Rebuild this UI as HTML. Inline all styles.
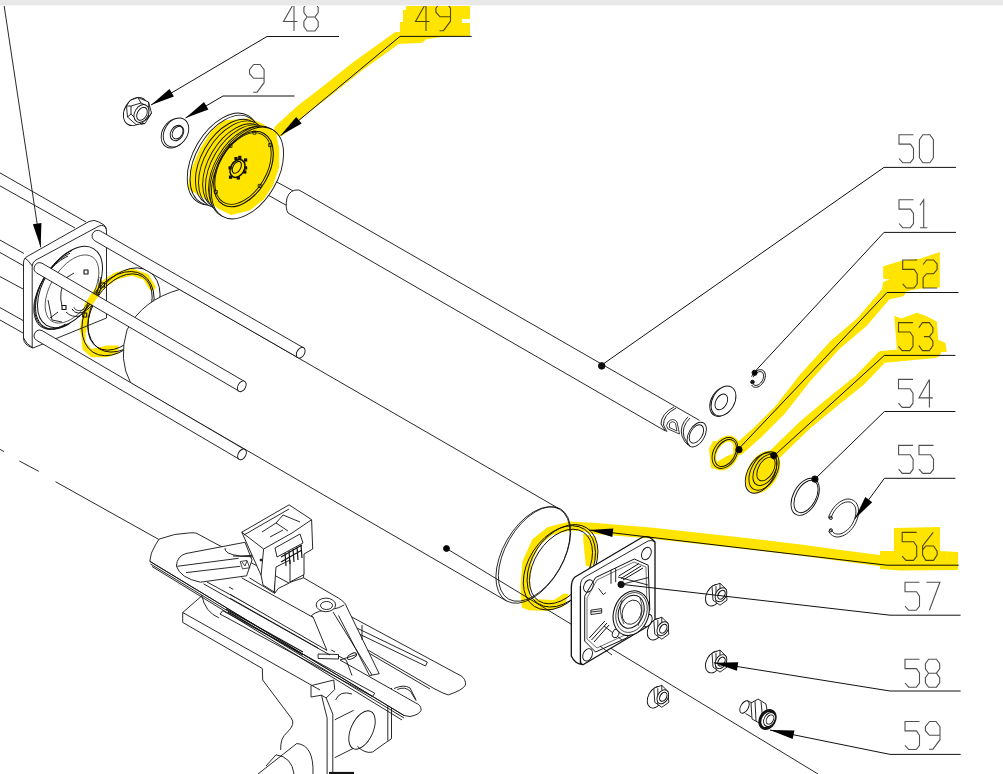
<!DOCTYPE html>
<html><head><meta charset="utf-8"><style>
html,body{margin:0;padding:0;background:#fff;width:1003px;height:774px;overflow:hidden;font-family:"Liberation Sans",sans-serif}
</style></head><body>
<svg width="1003" height="774" viewBox="0 0 1003 774" style="position:absolute;left:0;top:0">
<g fill="none" stroke="#111" stroke-width="0.9" stroke-linejoin="round"><path d="M0,449.4 L4,451.6 M19.4,461 L38.7,471.3 M55.5,481.7 L158.7,539.4" fill="none"/><path d="M182.7,612.5 L182.7,622.4 L262.3,668.5 L262.3,681.2 L291.1,717.9 Q296,724 287.4,732.1 Q280,738 280.7,750 L258,774 L400,774 L400,640 L182.7,612.5 Z" fill="#fff" stroke="none"/><path d="M182.7,612.5 L182.7,622.4 L262.3,668.5 L262.7,680 L291.1,717.9 Q296,724 287.4,732.1 Q280,738 280.7,750" fill="none"/><path d="M182.7,612.5 L201.9,595.8 M182.7,612.5 L320,690" fill="none"/><path d="M201.7,595.3 Q205,612 218.9,617.9" fill="none"/><path d="M296.8,743.5 L258,774 M276,754.8 L266,766" fill="none"/><path d="M296.8,743.5 Q314,745 313,774 M276,754.8 Q292,757 294,774" fill="none"/><path d="M311,685.7 L311,697 L321.5,695.2 L326.2,698 L332.8,714.1 L332.8,774 M327.1,717.9 L327.1,774 M321.5,695.2 Q324,706 327.1,717.9" fill="none"/><path d="M311,685.7 L333.8,680 L334.7,689.5 L326.2,698" fill="none"/><path d="M329,773 L354,773" fill="none" stroke-width="2.2"/><path d="M334.7,719.8 L353.7,710.3 L372.6,729.3 L363.1,750 L334.7,757.7 Z" fill="#fff" stroke="none"/><path d="M334.7,719.8 L353.7,710.3 M334.7,757.7 L368.8,740.6" fill="none"/><ellipse cx="362.0" cy="730.0" rx="11.0" ry="20.5" transform="rotate(25 362.0 730.0)" fill="#fff"/><path d="M335.6,700 Q340,690 352,694 M357.4,746.3 Q365,754 372.6,752 L385.9,742.5" fill="none"/><path d="M387.8,690 L387.8,740.6 M391.5,688 L391.5,738.7 M385.9,742.5 L391.5,738.7" fill="none"/><path d="M397.2,689.5 Q405,686 410.5,691.4 L416.2,700.8" fill="none"/><path d="M159.1,539.1 Q175,533 189.6,532.9 Q195,532.5 196.8,533.4 L461,675.9 Q466,679 465.5,685 Q463,690 448.3,694.9 L442.9,693 L433.9,688.5 L368.7,650.5 L340,660 L415.8,703 Q421.2,705 421.2,710.2 Q419,715 410,716.5 L404,715.5 L149.8,561.3 L151.4,553.1 L155.5,544.8 Z" fill="#fff"/><path d="M149.8,561.3 L404,715.5 M150.5,564 L404,718 M152,566.5 L402,720" fill="none"/><path d="M368.7,653 L430,689" fill="none"/><path d="M355.5,627.4 L427.3,662.1 L425.5,666 L353,631 Z" fill="none"/><path d="M222.7,610.7 L374.7,693.2 L372.4,696.5 L220,614 Z" fill="none"/><path d="M394,688.5 Q404,684 410,688 L415.8,699.4" fill="none"/><path d="M226,609 L303,652 M228,612 L303,655" fill="none" stroke-width="1.1"/><path d="M186,553.5 L245,542.3 L252,560 L246.6,575.8 L200.3,582.2 Q180,578 176.4,566 Q177,556 186,553.5 Z" fill="#fff"/><path d="M177.2,566.3 L238.6,558.3 M186,572.6 L240.2,566.3" fill="none"/><path d="M225,548 Q224,554 240,556 L258,555 M233,556 L258,557 L262,560" fill="none"/><path d="M240.2,561.5 L247,560.5 L249.7,567.8 L242.5,568.8 Z M242,562 L245,566 L247,561" fill="none" stroke-width="0.8"/><path d="M203.5,583.8 L330,655 M207,582 L335,652 M229,587 L340,648 M257,595 L350,644" fill="none"/><path d="M241.6,577.8 L249.4,577.8 L274.6,593.3 L278.4,588.4 L292,581.6 L303.6,577.8 L338.5,598.1 Q346,603 346.2,605.9 L379.2,673.7 L369.5,675.6 L352,646 L326.9,650.4 L230,594.2 Z" fill="#fff" stroke="none"/><path d="M249.4,577.8 L274.6,593.3 L278.4,588.4 L292,581.6 L303.6,577.8 L338.5,598.1 Q346,603 346.2,605.9 L379.2,673.7 L369.5,675.6 L338.5,615.5" fill="none"/><path d="M241.6,577.8 L313.3,617.5 L326.9,650.4 M230,594.2 L326.9,650.4 M230,598.1 L318,648" fill="none"/><path d="M311.4,615.5 Q318,610 330.7,609.7 Q340,608 344.3,604.9 M313.3,617.5 L311.4,615.5" fill="none"/><path d="M303.6,577.8 L303.6,569 L299.7,565.2 M274.6,593.3 L274.6,553.6 M292,581.6 L292,561.3" fill="none"/><ellipse cx="325.9" cy="604.9" rx="6.8" ry="9.7" transform="rotate(90 325.9 604.9)" fill="#fff"/><ellipse cx="326.5" cy="605.5" rx="4.0" ry="6.0" transform="rotate(90 326.5 605.5)" fill="none"/><path d="M333,612 L372,675" fill="none"/><path d="M318.1,654 L338.5,654.5 L338.5,659 L318.1,658.5 Z M338.5,656 L346.2,660.1" fill="none"/><ellipse cx="352.0" cy="656.2" rx="2.3" ry="5.0" transform="rotate(60 352.0 656.2)" fill="none"/><path d="M346.2,660.1 L352,675.6 M362,625 L362,640" fill="none"/><path d="M241.8,532.2 L289.1,504.8 L311.6,519.7 L312.7,549 L304,554 L304,574.6 L290,582 L290,560 L276,567 L274.2,592 L263,585 L261.1,575.4 Z" fill="#fff"/><path d="M241.8,532.2 L263.6,549 L261.1,575.4 M263.6,549 L292,533 L311.6,519.7 M244,535 L289,509" fill="none"/><path d="M262,532 L276,523 L288,531 M276,523 L283,515 L300,522 M270,537 L283,530" fill="none"/><path d="M275,548 L300,534 L303,543 L277,557 Z" fill="none"/><path d="M281,557 L302,545 M281,562 L302,550 M285,553 L286,566 M289,551 L290,564 M293,549 L294,562 M297,547 L298,560 M301,545 L302,558" fill="none" stroke-width="1.2"/><circle cx="261" cy="560" r="1" fill="#000"/><path d="M4.0,5.0 L40.7,247.3" fill="none"/><path d="M40.7,247.3 L41.4,222.9 L32.9,224.2 Z" fill="#000" stroke="none"/><ellipse cx="135.5" cy="111.5" rx="11.0" ry="15.0" transform="rotate(30 135.5 111.5)" fill="#fff"/><path d="M130,100.5 L138,97.5 L148.5,102 L151.5,113 L145,123.5 L136,124.5 L127.5,117 L126.5,106 Z" fill="#fff"/><path d="M138,97.5 L141,103 M148.5,102 L149,107 M151.5,113 L148,118 M145,123.5 L141,124 M127.5,117 L131,114 M126.5,106 L131,106" fill="none"/><path d="M131,106 L141,103 L149,107 L148,118 L141,124 L131,114 Z" fill="#fff"/><ellipse cx="141.5" cy="113.5" rx="6.8" ry="9.5" transform="rotate(30 141.5 113.5)" fill="#fff"/><ellipse cx="142.0" cy="113.8" rx="4.6" ry="7.0" transform="rotate(30 142.0 113.8)" fill="none"/><ellipse cx="174.2" cy="133.2" rx="11.8" ry="15.8" transform="rotate(32 174.2 133.2)" fill="#fff"/><ellipse cx="176.0" cy="132.5" rx="11.5" ry="15.5" transform="rotate(32 176.0 132.5)" fill="#fff"/><ellipse cx="177.0" cy="133.0" rx="6.2" ry="8.2" transform="rotate(32 177.0 133.0)" fill="none"/><ellipse cx="177.6" cy="132.6" rx="4.8" ry="6.8" transform="rotate(32 177.6 132.6)" fill="none"/><path d="M0,172.9 L86,222 M0,185.9 L75,228" fill="none"/><path d="M0,240.1 L24,253.5 M0,252.5 L24,266" fill="none"/><path d="M0,276.6 L23,289" fill="none"/><path d="M0,307.6 L23,320.5 M0,320 L23,333" fill="none"/><path d="M23.5,263 Q23.5,258 28,256 L89,221.5 Q94,219 99,222 L104,225 Q106.5,227 106.5,231 L106.5,318 L33,348 Q23.5,345 23.5,338 Z" fill="#fff"/><path d="M32.2,266 Q32.2,262 36,260 L99,226 Q104,224 106.5,229" fill="none"/><path d="M32.2,266 L32.2,347" fill="none"/><path d="M25,258 Q29,261 32.2,266" fill="none"/><path d="M23.5,338 Q26,344 33,348" fill="none"/><ellipse cx="70.0" cy="287.0" rx="26.0" ry="45.0" transform="rotate(32 70.0 287.0)" fill="none" stroke-width="1.0"/><path d="M69.6,323.6 L66.9,325.2 L64.2,326.5 L61.5,327.5 L58.9,328.3 L56.4,328.8 L53.9,329.1 L51.5,329.0 L49.3,328.7 L47.1,328.1 L45.1,327.2 L43.3,326.1 L41.6,324.7 L40.2,323.1 L38.9,321.2 L37.8,319.1 L36.9,316.8 L36.2,314.3 L35.8,311.6 L35.6,308.7 L35.5,305.7 L35.8,302.6 L36.2,299.4 L36.9,296.2 L37.7,292.8 L38.8,289.5 L40.1,286.1 L41.6,282.8 L43.2,279.5 L45.0,276.2 L47.0,273.1 L49.1,270.0 L51.4,267.1 L53.8,264.3 L56.2,261.7 L58.8,259.3 L61.4,257.0 L64.0,255.0 L66.7,253.2 L69.4,251.7 L72.1,250.4" fill="none" stroke-width="1.0"/><path d="M67.4,323.9 L64.8,325.4 L62.2,326.7 L59.7,327.7 L57.2,328.4 L54.7,328.9 L52.3,329.2 L50.0,329.1 L47.9,328.8 L45.8,328.3 L43.9,327.4 L42.1,326.3 L40.5,325.0 L39.1,323.4 L37.9,321.6 L36.8,319.6 L36.0,317.3 L35.3,314.9 L34.9,312.3 L34.7,309.6 L34.7,306.7 L34.9,303.7 L35.4,300.6 L36.0,297.5 L36.8,294.3 L37.9,291.0 L39.1,287.8 L40.5,284.5 L42.1,281.3 L43.9,278.2 L45.8,275.2 L47.9,272.2 L50.1,269.4 L52.3,266.7 L54.7,264.2 L57.2,261.8 L59.7,259.6 L62.3,257.7 L64.8,256.0 L67.4,254.5 L70.0,253.2" fill="none" stroke-width="1.0"/><path d="M65.3,324.1 L62.8,325.6 L60.3,326.8 L57.8,327.8 L55.4,328.6 L53.0,329.1 L50.8,329.3 L48.6,329.3 L46.5,329.0 L44.5,328.4 L42.7,327.6 L41.0,326.6 L39.4,325.3 L38.1,323.8 L36.9,322.0 L35.9,320.1 L35.1,317.9 L34.5,315.6 L34.1,313.1 L33.9,310.5 L33.9,307.7 L34.1,304.8 L34.5,301.8 L35.1,298.8 L36.0,295.7 L37.0,292.6 L38.2,289.4 L39.5,286.3 L41.1,283.2 L42.8,280.2 L44.6,277.2 L46.6,274.4 L48.7,271.7 L50.9,269.1 L53.2,266.6 L55.6,264.3 L58.0,262.3 L60.5,260.4 L63.0,258.7 L65.5,257.3 L68.0,256.0" fill="none" stroke-width="1.0"/><path d="M89.8,300.1 L87.0,304.2 L84.0,308.1 L80.7,311.6 L77.4,314.8 L73.9,317.4 L70.4,319.7 L66.9,321.3 L63.5,322.5 L60.2,323.0 L57.2,323.0 L54.4,322.4 L51.9,321.2 L49.7,319.5 L47.9,317.2 L46.6,314.5 L45.7,311.3 L45.2,307.8 L45.2,303.9 L45.6,299.8 L46.5,295.5 L47.8,291.1 L49.6,286.6 L51.7,282.2 L54.2,277.9 L57.0,273.8 L60.0,269.9 L63.3,266.4 L66.6,263.2 L70.1,260.6 L73.6,258.3 L77.1,256.7 L80.5,255.5 L83.8,255.0 L86.8,255.0 L89.6,255.6 L92.1,256.8 L94.3,258.5 L96.1,260.8 L97.4,263.5 L98.3,266.7 L98.8,270.2 L98.8,274.1 L98.4,278.2 L97.5,282.5 L96.2,286.9 L94.4,291.4 L92.3,295.8 L89.8,300.1 Z" fill="none" stroke-width="0.7"/><path d="M99.9,277.1 L100.4,278.5 L100.8,280.0 L101.1,281.7 L101.1,283.5 L101.0,285.3 L100.8,287.3 L100.3,289.4 L99.8,291.4 L99.0,293.5 L98.1,295.6 L97.1,297.7 L96.0,299.7 L94.8,301.6 L93.4,303.4 L92.0,305.2 L90.5,306.7 L89.0,308.2 L87.4,309.5 L85.8,310.6 L84.3,311.5 L82.7,312.2 L81.2,312.6 L79.7,312.9 L78.3,313.0 L77.0,312.8 L75.8,312.4 L74.6,311.8 L73.7,311.0 L72.8,310.0 L72.1,308.9" fill="none" stroke-width="1.0"/><path d="M98.1,278.8 L98.6,280.0 L98.9,281.3 L99.0,282.8 L99.0,284.3 L98.9,286.0 L98.6,287.7 L98.2,289.5 L97.7,291.3 L97.0,293.2 L96.2,295.0 L95.3,296.8 L94.3,298.6 L93.2,300.3 L92.0,301.9 L90.8,303.5 L89.5,304.9 L88.2,306.2 L86.8,307.3 L85.5,308.3 L84.1,309.2 L82.8,309.8 L81.5,310.3 L80.2,310.5 L79.0,310.6 L77.9,310.5 L76.9,310.2 L76.0,309.7 L75.1,309.0 L74.4,308.2 L73.9,307.2" fill="none" stroke-width="0.8"/><path d="M62,306 Q58,292 66,278 L74,273 M66,312 Q72,318 80,316" fill="none"/><rect x="84.0" y="270.0" width="4" height="4" fill="#fff" stroke-width="1.1"/><rect x="100.5" y="283.0" width="4" height="4" fill="#fff" stroke-width="1.1"/><rect x="62.0" y="305.5" width="4" height="4" fill="#fff" stroke-width="1.1"/><rect x="82.7" y="313.0" width="4" height="4" fill="#fff" stroke-width="1.1"/><path d="M48,300 L52,320 L62,322 M50,318 L58,312" fill="none"/><ellipse cx="118.0" cy="313.6" rx="31.0" ry="46.0" transform="rotate(33 118.0 313.6)" fill="none"/><ellipse cx="120.0" cy="312.0" rx="27.0" ry="42.0" transform="rotate(33 120.0 312.0)" fill="none"/><ellipse cx="124.0" cy="310.0" rx="31.0" ry="46.0" transform="rotate(33 124.0 310.0)" fill="none"/><path d="M179.8,289.4 L559.5,509 L506.5,601 L130.7,383 Q118,360 127,330 Q142,300 179.8,289.4 Z" fill="#fff" stroke="none"/><path d="M179.8,289.4 L559.5,509 M130.7,383 L506.5,601" fill="none"/><path d="M179.8,289.4 Q142,300 127,330 Q118,360 130.7,383" fill="none"/><ellipse cx="533.0" cy="555.0" rx="30.0" ry="53.0" transform="rotate(30 533.0 555.0)" fill="none" stroke-width="0.8"/><ellipse cx="534.5" cy="554.0" rx="29.0" ry="52.0" transform="rotate(30 534.5 554.0)" fill="none" stroke-width="0.8"/><circle cx="446.5" cy="548.5" r="3" fill="#000"/><path d="M94.9,240.9 L297.9,357.6 L303.5,347.8 L100.5,231.1 A5.6,5.6 0 0 0 94.9,240.9 Z" fill="#fff" stroke="none"/><path d="M94.9,240.9 L297.9,357.6 M100.5,231.1 L303.5,347.8" fill="none"/><path d="M100.5,231.1 A5.6,5.6 0 0 0 94.9,240.9" fill="none"/><ellipse cx="300.7" cy="352.7" rx="3.8" ry="5.8" transform="rotate(30 300.7 352.7)" fill="#fff"/><path d="M36.4,272.8 L239.0,391.1 L244.6,381.5 L42.0,263.2 A5.6,5.6 0 0 0 36.4,272.8 Z" fill="#fff" stroke="none"/><path d="M36.4,272.8 L239.0,391.1 M42.0,263.2 L244.6,381.5" fill="none"/><path d="M42.0,263.2 A5.6,5.6 0 0 0 36.4,272.8" fill="none"/><ellipse cx="241.8" cy="386.3" rx="3.8" ry="5.8" transform="rotate(30 241.8 386.3)" fill="#fff"/><path d="M36.4,340.2 L239.2,459.2 L244.8,449.6 L42.0,330.6 A5.6,5.6 0 0 0 36.4,340.2 Z" fill="#fff" stroke="none"/><path d="M36.4,340.2 L239.2,459.2 M42.0,330.6 L244.8,449.6" fill="none"/><path d="M42.0,330.6 A5.6,5.6 0 0 0 36.4,340.2" fill="none"/><ellipse cx="242.0" cy="454.4" rx="3.8" ry="5.8" transform="rotate(30 242.0 454.4)" fill="#fff"/><path d="M446.5,548.5 L818.0,774.0" fill="none"/><ellipse cx="559.4" cy="567.8" rx="31.0" ry="46.0" transform="rotate(33 559.4 567.8)" fill="none"/><ellipse cx="561.0" cy="566.5" rx="26.5" ry="41.0" transform="rotate(33 561.0 566.5)" fill="none"/><ellipse cx="562.5" cy="565.8" rx="30.5" ry="45.0" transform="rotate(33 562.5 565.8)" fill="none"/><path d="M276,181.6 L292.8,190.7 M269,195.6 L286.5,205.4" fill="none"/><path d="M299,190 L699.5,420.4 L703,423 L680,440 L665.4,431 L288,213 Q285,208 287,198 Q290,189 299,190 Z" fill="#fff" stroke="none"/><path d="M299,190 L699.5,420.4 M288,213 L665.4,431" fill="none"/><path d="M299,190 Q290,189 287,198 Q285,208 288,213" fill="none"/><ellipse cx="696.7" cy="434.6" rx="8.0" ry="13.5" transform="rotate(30 696.7 434.6)" fill="#fff"/><ellipse cx="696.4" cy="433.9" rx="6.0" ry="10.0" transform="rotate(30 696.4 433.9)" fill="none"/><path d="M688,416.8 Q679,426 682,436 Q684,442 688,445 M690,418 Q681,427 684,437 Q686,442 690,446" fill="none"/><path d="M674,406.9 Q661,414 661,424 L665.4,431 M676,408 Q663,415 663.5,425 L667,432" fill="none"/><path d="M668,422 Q673,417 677,422 L679.5,434 L668,429 Q665,426 668,422 Z M669.5,423.5 Q673,420 675.5,423.5 L677,431 L669.5,427.5 Z" fill="none" stroke-width="0.8"/><circle cx="601.7" cy="365.9" r="3.3" fill="#111"/><ellipse cx="223.3" cy="159.0" rx="30.0" ry="50.0" transform="rotate(30 223.3 159.0)" fill="#fff" stroke-width="0.9"/><ellipse cx="225.4" cy="160.2" rx="29.4" ry="49.0" transform="rotate(30 225.4 160.2)" fill="#fff" stroke-width="0.9"/><ellipse cx="229.3" cy="162.5" rx="28.2" ry="47.0" transform="rotate(30 229.3 162.5)" fill="#fff" stroke-width="0.9"/><ellipse cx="232.8" cy="164.5" rx="28.5" ry="47.5" transform="rotate(30 232.8 164.5)" fill="#fff" stroke-width="0.9"/><ellipse cx="236.2" cy="166.5" rx="27.9" ry="46.5" transform="rotate(30 236.2 166.5)" fill="#fff" stroke-width="0.9"/><ellipse cx="239.7" cy="168.5" rx="28.5" ry="47.5" transform="rotate(30 239.7 168.5)" fill="#fff" stroke-width="0.9"/><ellipse cx="243.2" cy="170.5" rx="28.8" ry="48.0" transform="rotate(30 243.2 170.5)" fill="#fff" stroke-width="0.9"/><ellipse cx="245.8" cy="172.0" rx="30.0" ry="50.0" transform="rotate(30 245.8 172.0)" fill="#fff" stroke-width="0.9"/><ellipse cx="247.5" cy="173.0" rx="30.0" ry="50.0" transform="rotate(30 247.5 173.0)" fill="#fff" stroke-width="0.9"/><ellipse cx="243.5" cy="169.0" rx="25.0" ry="41.0" transform="rotate(30 243.5 169.0)" fill="none" stroke-width="1.1"/><ellipse cx="243.0" cy="168.5" rx="23.5" ry="39.0" transform="rotate(30 243.0 168.5)" fill="none"/><ellipse cx="237.5" cy="168.5" rx="6.8" ry="9.5" transform="rotate(30 237.5 168.5)" fill="none" stroke-width="1.5"/><ellipse cx="236.8" cy="167.3" rx="3.8" ry="6.5" transform="rotate(30 236.8 167.3)" fill="none" stroke-width="1.1"/><rect x="238.2" y="155.8" width="3.2" height="3.2" fill="#111" stroke="none"/><rect x="244.0" y="158.4" width="3.2" height="3.2" fill="#111" stroke="none"/><rect x="244.0" y="166.3" width="3.2" height="3.2" fill="#111" stroke="none"/><rect x="243.2" y="170.4" width="3.2" height="3.2" fill="#111" stroke="none"/><rect x="236.7" y="176.4" width="3.2" height="3.2" fill="#111" stroke="none"/><rect x="228.9" y="175.6" width="3.2" height="3.2" fill="#111" stroke="none"/><rect x="228.5" y="166.3" width="3.2" height="3.2" fill="#111" stroke="none"/><rect x="234.4" y="157.0" width="3.2" height="3.2" fill="#111" stroke="none"/><rect x="229.0" y="144.4" width="3" height="3" fill="none" stroke-width="0.8"/><rect x="252.9" y="131.2" width="3" height="3" fill="none" stroke-width="0.8"/><rect x="268.6" y="143.6" width="3" height="3" fill="none" stroke-width="0.8"/><rect x="258.2" y="184.4" width="3" height="3" fill="none" stroke-width="0.8"/><rect x="214.4" y="190.4" width="3" height="3" fill="none" stroke-width="0.8"/><path d="M751.6,376.7 L752.4,375.2 L753.3,373.9 L754.3,372.6 L755.5,371.6 L756.7,370.7 L758.0,370.1 L759.3,369.8 L760.5,369.7 L761.7,369.8 L762.8,370.3 L763.7,371.0 L764.4,371.9 L764.9,373.0 L765.3,374.3 L765.4,375.7 L765.2,377.2 L764.9,378.7 L764.4,380.3 L763.6,381.8 L762.7,383.1 L761.7,384.4 L760.5,385.4 L759.3,386.3 L758.0,386.9 L756.7,387.2 L755.5,387.3 L754.3,387.2 L753.2,386.7 L752.3,386.0 L751.6,385.1" fill="none" stroke-width="1.0"/><path d="M753.3,377.3 L753.8,376.1 L754.6,375.0 L755.4,374.0 L756.3,373.2 L757.2,372.5 L758.2,372.0 L759.2,371.7 L760.1,371.6 L761.0,371.7 L761.8,372.0 L762.4,372.5 L762.9,373.2 L763.3,374.1 L763.5,375.1 L763.6,376.2 L763.5,377.3 L763.2,378.5 L762.7,379.7 L762.2,380.9 L761.4,382.0 L760.6,383.0 L759.7,383.8 L758.8,384.5 L757.8,385.0 L756.8,385.3 L755.9,385.4 L755.0,385.3 L754.2,385.0 L753.6,384.5 L753.1,383.8" fill="none" stroke-width="1.0"/><circle cx="752.5" cy="382" r="1.8" fill="#111"/><circle cx="754.6" cy="372.8" r="2.6" fill="#000"/><ellipse cx="722.2" cy="401.5" rx="11.0" ry="16.0" transform="rotate(30 722.2 401.5)" fill="#fff"/><ellipse cx="723.5" cy="401.0" rx="11.0" ry="16.0" transform="rotate(30 723.5 401.0)" fill="#fff"/><ellipse cx="721.3" cy="401.9" rx="5.5" ry="8.5" transform="rotate(30 721.3 401.9)" fill="none"/><ellipse cx="725.0" cy="453.0" rx="11.5" ry="16.5" transform="rotate(30 725.0 453.0)" fill="none"/><ellipse cx="725.5" cy="453.0" rx="9.5" ry="14.5" transform="rotate(30 725.5 453.0)" fill="none"/><circle cx="739" cy="449.7" r="3.2" fill="#000"/><ellipse cx="761.0" cy="473.0" rx="13.0" ry="22.0" transform="rotate(30 761.0 473.0)" fill="none"/><ellipse cx="764.0" cy="471.0" rx="12.5" ry="21.0" transform="rotate(30 764.0 471.0)" fill="none"/><ellipse cx="765.0" cy="470.0" rx="10.0" ry="17.0" transform="rotate(30 765.0 470.0)" fill="none"/><ellipse cx="766.0" cy="469.0" rx="7.5" ry="13.0" transform="rotate(30 766.0 469.0)" fill="none"/><circle cx="773.8" cy="455.4" r="3.2" fill="#000"/><ellipse cx="805.2" cy="496.8" rx="12.0" ry="20.0" transform="rotate(28 805.2 496.8)" fill="none"/><ellipse cx="806.0" cy="496.5" rx="10.0" ry="17.5" transform="rotate(28 806.0 496.5)" fill="none"/><circle cx="814.9" cy="479.1" r="3.2" fill="#000"/><path d="M828.5,517.7 L829.4,515.1 L830.6,512.6 L832.0,510.1 L833.6,507.8 L835.4,505.7 L837.3,503.9 L839.3,502.3 L841.4,501.0 L843.6,500.0 L845.7,499.3 L847.8,499.0 L849.8,499.1 L851.6,499.5 L853.3,500.3 L854.8,501.4 L856.1,502.8 L857.1,504.5 L857.9,506.5 L858.4,508.6 L858.5,511.0 L858.4,513.5 L858.1,516.0 L857.4,518.6 L856.4,521.2 L855.2,523.8 L853.8,526.2 L852.2,528.5 L850.4,530.5 L848.4,532.4 L846.4,533.9 L844.3,535.2 L842.1,536.1 L840.0,536.7 L837.9,537.0 L836.0,536.9 L834.1,536.4 L832.5,535.6 L831.0,534.4 L829.8,533.0 L828.8,531.2" fill="none"/><path d="M831.1,518.0 L831.8,515.8 L832.9,513.6 L834.0,511.6 L835.4,509.6 L836.9,507.8 L838.5,506.2 L840.2,504.8 L842.0,503.6 L843.8,502.8 L845.5,502.2 L847.3,501.9 L848.9,501.9 L850.4,502.2 L851.8,502.9 L853.0,503.8 L854.0,504.9 L854.9,506.4 L855.5,508.0 L855.8,509.8 L855.9,511.8 L855.8,513.9 L855.4,516.1 L854.8,518.3 L854.0,520.5 L853.0,522.7 L851.8,524.7 L850.4,526.7 L848.9,528.5 L847.2,530.0 L845.5,531.4 L843.7,532.5 L842.0,533.3 L840.2,533.9 L838.5,534.1 L836.9,534.0 L835.4,533.7 L834.0,533.0 L832.8,532.1 L831.8,530.9 L831.0,529.4" fill="none"/><path d="M828.5,517.7 L831.1,518.0 M828.8,531.2 L831.0,529.4" fill="none"/><circle cx="830.8" cy="517.9" r="1.6"/><circle cx="830.9" cy="530.3" r="1.6"/><path d="M575,577 L641,538 Q647,535 652,539 L655,542 L655,622 L583,664.7 Q575,664 571.3,656 L571.3,588 Q571.3,580 575,577 Z" fill="#fff" stroke-width="1.3"/><path d="M580.4,586 Q580.4,579 585,577 L648,541 Q652,539.5 655,542" fill="none"/><path d="M580.4,586 L580.4,664" fill="none" stroke-width="1.3"/><path d="M583,664.7 Q580.4,664 580.4,660" fill="none"/><ellipse cx="588.5" cy="586.0" rx="4.5" ry="6.5" transform="rotate(25 588.5 586.0)" fill="#fff"/><ellipse cx="646.4" cy="553.5" rx="4.5" ry="6.5" transform="rotate(25 646.4 553.5)" fill="#fff"/><ellipse cx="587.6" cy="654.8" rx="4.5" ry="6.5" transform="rotate(25 587.6 654.8)" fill="#fff"/><ellipse cx="647.3" cy="620.4" rx="4.5" ry="6.5" transform="rotate(25 647.3 620.4)" fill="#fff"/><path d="M595.5,577.6 L634.3,559 L648.2,565.2 L649.8,610.1 L626.5,638 L595.5,652 L584.7,641.1 L584.7,596.2 Z" fill="none" stroke-width="1.0"/><path d="M597,580 L634,562 L646,567 L647,608 L625,635 L597,648 L587,639 L587,598 Z" fill="none" stroke-width="0.6"/><path d="M618.8,576 L638.9,563.6 M621,578.5 L641,566 M623,580 L643,568" fill="none" stroke-width="1.0"/><path d="M589.3,638 L604.8,621 M591.5,640 L607,623 M594,642 L609,625" fill="none" stroke-width="1.0"/><path d="M590.9,610.1 L601.7,608.6 L601.7,613 L590.9,614.5 Z M590.9,612 L601.7,610.8" fill="none" stroke-width="0.9"/><path d="M611,569.8 L611,583.8 M615.7,568.3 L615.7,582.2 M598.6,588.4 L603.3,594.6 L606,592.5" fill="none"/><path d="M621.1,584.5 L648.2,577.6 M618,577 L648,585 M600,646 L612,655 M604,626 L622,640" fill="none"/><ellipse cx="615.7" cy="633.4" rx="3.2" ry="4.5" transform="rotate(20 615.7 633.4)" fill="#fff"/><ellipse cx="631.2" cy="613.2" rx="17.4" ry="22.9" transform="rotate(20 631.2 613.2)" fill="#fff" stroke-width="1.1"/><ellipse cx="631.5" cy="612.5" rx="15.0" ry="20.5" transform="rotate(20 631.5 612.5)" fill="none" stroke-width="0.7"/><ellipse cx="631.2" cy="611.7" rx="12.4" ry="17.0" transform="rotate(20 631.2 611.7)" fill="none" stroke-width="1.0"/><ellipse cx="631.8" cy="612.2" rx="9.3" ry="12.4" transform="rotate(20 631.8 612.2)" fill="none" stroke-width="0.8"/><path d="M622,600 Q618,612 624,624 M640,598 Q645,610 638,626" fill="none" stroke-width="0.7"/><circle cx="621.1" cy="584.5" r="3.2" fill="#111"/><ellipse cx="714.0" cy="595.2" rx="7.5" ry="11.5" transform="rotate(28 714.0 595.2)" fill="#fff"/><path d="M712,586.2 L720,583.2 L726,589.2 L727,600.2 L720,605.2 L713,600.2 Z" fill="#fff"/><path d="M716,586.2 L716,602.2 M720,583.2 L720,588.2" fill="none"/><ellipse cx="721.0" cy="594.7" rx="5.2" ry="7.5" transform="rotate(30 721.0 594.7)" fill="#fff"/><ellipse cx="721.5" cy="594.7" rx="3.2" ry="4.8" transform="rotate(30 721.5 594.7)" fill="none" stroke-width="1.1"/><ellipse cx="655.8" cy="629.2" rx="7.5" ry="11.5" transform="rotate(28 655.8 629.2)" fill="#fff"/><path d="M653.8,620.2 L661.8,617.2 L667.8,623.2 L668.8,634.2 L661.8,639.2 L654.8,634.2 Z" fill="#fff"/><path d="M657.8,620.2 L657.8,636.2 M661.8,617.2 L661.8,622.2" fill="none"/><ellipse cx="662.8" cy="628.7" rx="5.2" ry="7.5" transform="rotate(30 662.8 628.7)" fill="#fff"/><ellipse cx="663.3" cy="628.7" rx="3.2" ry="4.8" transform="rotate(30 663.3 628.7)" fill="none" stroke-width="1.1"/><ellipse cx="714.0" cy="662.1" rx="7.5" ry="11.5" transform="rotate(28 714.0 662.1)" fill="#fff"/><path d="M712,653.1 L720,650.1 L726,656.1 L727,667.1 L720,672.1 L713,667.1 Z" fill="#fff"/><path d="M716,653.1 L716,669.1 M720,650.1 L720,655.1" fill="none"/><ellipse cx="721.0" cy="661.6" rx="5.2" ry="7.5" transform="rotate(30 721.0 661.6)" fill="#fff"/><ellipse cx="721.5" cy="661.6" rx="3.2" ry="4.8" transform="rotate(30 721.5 661.6)" fill="none" stroke-width="1.1"/><ellipse cx="655.8" cy="697.3" rx="7.5" ry="11.5" transform="rotate(28 655.8 697.3)" fill="#fff"/><path d="M653.8,688.3 L661.8,685.3 L667.8,691.3 L668.8,702.3 L661.8,707.3 L654.8,702.3 Z" fill="#fff"/><path d="M657.8,688.3 L657.8,704.3 M661.8,685.3 L661.8,690.3" fill="none"/><ellipse cx="662.8" cy="696.8" rx="5.2" ry="7.5" transform="rotate(30 662.8 696.8)" fill="#fff"/><ellipse cx="663.3" cy="696.8" rx="3.2" ry="4.8" transform="rotate(30 663.3 696.8)" fill="none" stroke-width="1.1"/><path d="M747,700.5 L753,703.5 M745.5,713.5 L751.5,717" fill="none" stroke-width="0.9"/><ellipse cx="744.5" cy="707.0" rx="3.8" ry="6.8" transform="rotate(30 744.5 707.0)" fill="#fff"/><path d="M751,703 L758,699 L766,704 L768,716 L761,724 L752,719 Z" fill="#fff"/><path d="M755,701 L756,721 M761,701.5 L763,722" fill="none"/><ellipse cx="767.5" cy="719.5" rx="7.0" ry="9.5" transform="rotate(30 767.5 719.5)" fill="#fff" stroke-width="3"/><ellipse cx="769.5" cy="719.5" rx="5.3" ry="7.5" transform="rotate(30 769.5 719.5)" fill="#fff"/><ellipse cx="770.0" cy="719.5" rx="3.3" ry="5.0" transform="rotate(30 770.0 719.5)" fill="none"/></g><g fill="none" stroke="#505050" stroke-width="1.1" stroke-linejoin="miter"><path transform="translate(283.5,3.0)" d="M10.5,0 L0,18.5 H14 M10.5,0 V28"/><path transform="translate(303.9,3.0)" d="M3.2,0 H11 L14.3,4.4 V9.6 L11,14 H3.2 L0,9.6 V4.4 Z M3.2,14 L0,18.4 V23.6 L3.2,28 H11 L14.3,23.6 V18.4 L11,14"/><path transform="translate(249.5,64.5)" d="M4.1,0 H10.6 L14.6,5.2 V18.2 L7.6,27.7 H3.6 M14.6,13.8 H4.1 L0,9.2 V5.2 L4.1,0"/><path transform="translate(415.5,3.0)" d="M10.5,0 L0,18.5 H14 M10.5,0 V28"/><path transform="translate(435.9,3.0)" d="M4.1,0 H10.6 L14.6,5.2 V18.2 L7.6,27.7 H3.6 M14.6,13.8 H4.1 L0,9.2 V5.2 L4.1,0"/><path transform="translate(899.0,134.7)" d="M14.5,0 H0 V9.4 H11.5 L14.5,13.8 V23.8 L11.3,28 H3.7 L0,23.8"/><path transform="translate(919.4,134.7)" d="M3.5,0 H10.5 L14,5 V23 L10.5,28 H3.5 L0,23 V5 Z"/><path transform="translate(899.0,199.7)" d="M14.5,0 H0 V9.4 H11.5 L14.5,13.8 V23.8 L11.3,28 H3.7 L0,23.8"/><path transform="translate(919.4,199.7)" d="M0.5,5.5 L4.3,0 V28 M0.5,28 H8"/><path transform="translate(902.7,260.0)" d="M14.5,0 H0 V9.4 H11.5 L14.5,13.8 V23.8 L11.3,28 H3.7 L0,23.8"/><path transform="translate(923.1,260.0)" d="M0,4.5 L3.5,0 H10.5 L14,4 V9.5 L10.5,13.7 H3.5 L0,17.7 V28 H14"/><path transform="translate(898.5,322.6)" d="M14.5,0 H0 V9.4 H11.5 L14.5,13.8 V23.8 L11.3,28 H3.7 L0,23.8"/><path transform="translate(918.9,322.6)" d="M0,5 L3.5,0 H10.5 L14,5 V9.5 L10.5,14 H5 M10.5,14 L14,18.5 V23 L10.5,28 H3.5 L0,23"/><path transform="translate(898.5,379.4)" d="M14.5,0 H0 V9.4 H11.5 L14.5,13.8 V23.8 L11.3,28 H3.7 L0,23.8"/><path transform="translate(918.9,379.4)" d="M10.5,0 L0,18.5 H14 M10.5,0 V28"/><path transform="translate(898.6,445.4)" d="M14.5,0 H0 V9.4 H11.5 L14.5,13.8 V23.8 L11.3,28 H3.7 L0,23.8"/><path transform="translate(919.0,445.4)" d="M14.5,0 H0 V9.4 H11.5 L14.5,13.8 V23.8 L11.3,28 H3.7 L0,23.8"/><path transform="translate(902.2,532.4)" d="M14.5,0 H0 V9.4 H11.5 L14.5,13.8 V23.8 L11.3,28 H3.7 L0,23.8"/><path transform="translate(922.6,532.4)" d="M10.6,0 L0,13.6 V22.6 L3.2,28 H10.9 L14.5,22.6 V18.7 L11,13.6 H3.2 L0,17.5"/><path transform="translate(905.0,582.3)" d="M14.5,0 H0 V9.4 H11.5 L14.5,13.8 V23.8 L11.3,28 H3.7 L0,23.8"/><path transform="translate(925.4,582.3)" d="M1,0 H14.5 L4,28"/><path transform="translate(905.0,659.2)" d="M14.5,0 H0 V9.4 H11.5 L14.5,13.8 V23.8 L11.3,28 H3.7 L0,23.8"/><path transform="translate(925.4,659.2)" d="M3.2,0 H11 L14.3,4.4 V9.6 L11,14 H3.2 L0,9.6 V4.4 Z M3.2,14 L0,18.4 V23.6 L3.2,28 H11 L14.3,23.6 V18.4 L11,14"/><path transform="translate(905.0,721.5)" d="M14.5,0 H0 V9.4 H11.5 L14.5,13.8 V23.8 L11.3,28 H3.7 L0,23.8"/><path transform="translate(925.4,721.5)" d="M4.1,0 H10.6 L14.6,5.2 V18.2 L7.6,27.7 H3.6 M14.6,13.8 H4.1 L0,9.2 V5.2 L4.1,0"/></g><g stroke="#111" stroke-width="1.0"><path d="M339,36.5 H267 L151,105" fill="none"/><path d="M151,105 L173.9,96.5 L169.5,89.1 Z" fill="#000" stroke="none"/><path d="M294.5,96 H223 L185.5,118" fill="none"/><path d="M185.5,118 L208.4,109.6 L204.0,102.1 Z" fill="#000" stroke="none"/><path d="M471.6,36.4 H400 L280.5,135.6" fill="none"/><path d="M280.5,135.6 L301.7,123.6 L296.2,117.0 Z" fill="#000" stroke="none"/><path d="M956,167.4 H884 L601,365.5" fill="none"/><path d="M956,232.4 H884 L753.5,373" fill="none"/><path d="M958.5,292.5 H887 L738,449.6" fill="none"/><path d="M955.4,355.4 H884.4 L774,455.8" fill="none"/><path d="M955.4,411.5 H884.4 L815,479" fill="none"/><path d="M955.4,478.3 H884.4 L854.6,519" fill="none"/><path d="M854.6,519 L872.2,502.2 L865.3,497.1 Z" fill="#000" stroke="none"/><path d="M958.8,565.2 H887 L589,530" fill="none"/><path d="M589,530 L612.3,537.1 L613.3,528.5 Z" fill="#000" stroke="none"/><path d="M960.6,615.2 H890 L621.4,584.3" fill="none"/><path d="M960.6,691 H890 L713.9,662.8" fill="none"/><path d="M713.9,662.8 L736.9,670.8 L738.3,662.3 Z" fill="#000" stroke="none"/><path d="M960.6,754.4 H890 L770,730" fill="none"/><path d="M770,730 L792.7,739.0 L794.4,730.6 Z" fill="#000" stroke="none"/></g>
<g style="mix-blend-mode:multiply" fill="#ffe400" stroke="none"><path d="M406.0,5.0 L470.0,5.0 L470.0,19.0 L462.0,19.0 L462.0,23.0 L470.0,23.0 L470.0,36.0 L441.0,37.0 L410.0,42.0 L400.0,40.0 L400.0,22.0 L403.0,22.0 L403.0,10.0 L406.0,10.0 Z"/><path fill="none" stroke="#ffe400" stroke-linecap="round" stroke-linejoin="round" stroke-width="12" d="M420.0,37.0 L397.0,38.0 L358.0,66.0 L328.0,90.0 L302.0,110.0 L280.0,130.0"/><path d="M223.4,120.5 L249.8,118.2 L262.2,123.6 L276.0,132.9 L279.2,148.4 L279.2,167.0 L273.0,185.6 L263.7,199.6 L249.8,210.4 L231.2,215.0 L218.8,208.9 L203.3,198.0 L187.8,188.7 L190.9,170.0 L200.2,148.4 L211.0,131.4 Z"/><path d="M883.2,266.3 L902.3,260.4 L919.9,258.8 L939.8,252.0 L939.8,287.5 L923.0,288.3 L911.9,289.9 L900.0,293.0 L888.0,297.8 L880.0,300.0 L883.2,281.9 L889.6,279.5 L883.2,278.7 Z"/><path fill="none" stroke="#ffe400" stroke-linecap="round" stroke-linejoin="round" stroke-width="12" d="M900.0,291.0 L886.0,294.0 L862.0,322.0 L835.0,345.0 L805.0,378.0 L780.0,410.0 L758.0,432.0 L739.0,449.0"/><ellipse cx="725" cy="453" rx="10.5" ry="15.5" transform="rotate(30 725 453)" fill="none" stroke="#ffe400" stroke-width="6"/><path d="M709.0,449.0 L713.0,441.0 L717.0,441.0 L714.0,455.0 L717.0,462.0 L727.0,456.0 L735.0,453.0 L733.0,463.0 L722.0,470.0 L711.0,468.0 Z"/><path d="M894.2,315.7 L901.3,318.5 L917.0,312.8 L925.5,315.7 L936.8,321.4 L938.2,339.8 L945.3,342.7 L946.8,351.9 L922.6,352.6 L897.0,349.8 L895.6,332.7 Z"/><path fill="none" stroke="#ffe400" stroke-linecap="round" stroke-linejoin="round" stroke-width="12" d="M935.0,352.0 L882.0,357.0 L860.0,380.0 L835.0,400.0 L805.0,425.0 L774.0,455.0"/><ellipse cx="763" cy="472" rx="15" ry="23" transform="rotate(30 763 472)"/><path d="M894.0,528.0 L940.0,527.0 L940.0,551.0 L958.0,552.0 L958.0,570.0 L900.0,570.6 L880.0,569.0 L880.0,551.0 L894.0,551.0 Z"/><path fill="none" stroke="#ffe400" stroke-linecap="round" stroke-linejoin="round" stroke-width="11" d="M890.0,562.0 L800.0,550.0 L750.0,544.0 L650.0,533.0 L590.0,528.0"/><path fill="none" stroke="#ffe400" stroke-linecap="round" stroke-linejoin="round" stroke-width="9" d="M587.0,527.0 L570.0,526.0 L550.0,531.0 L536.0,542.0 L527.0,562.0 L525.0,585.0 L526.0,604.0"/><path d="M521.9,597.0 L537.0,599.2 L553.9,600.0 L564.0,593.4 L569.0,594.2 L564.0,606.0 L548.8,611.0 L528.7,610.2 L521.9,607.6 Z"/><path d="M583.3,533.7 L595.9,537.0 L597.6,557.2 L590.8,567.3 L585.8,565.6 L583.3,540.4 Z"/><path fill="none" stroke="#ffe400" stroke-linecap="round" stroke-linejoin="round" stroke-width="7" d="M83.0,330.0 L88.0,305.0 L101.0,286.0 L116.0,276.0 L132.0,272.0 L146.0,277.0 L152.0,287.0"/><path d="M80.7,330.0 L85.6,330.0 L85.6,341.8 L91.4,349.0 L106.9,345.6 L118.5,345.6 L118.5,353.4 L106.9,357.3 L91.4,357.3 L82.6,349.5 Z"/></g>
<rect x="0" y="0" width="1003" height="5" fill="#e8e8e8"/><rect x="0" y="5" width="1003" height="1" fill="#f6f6f6"/>
</svg>
</body></html>
